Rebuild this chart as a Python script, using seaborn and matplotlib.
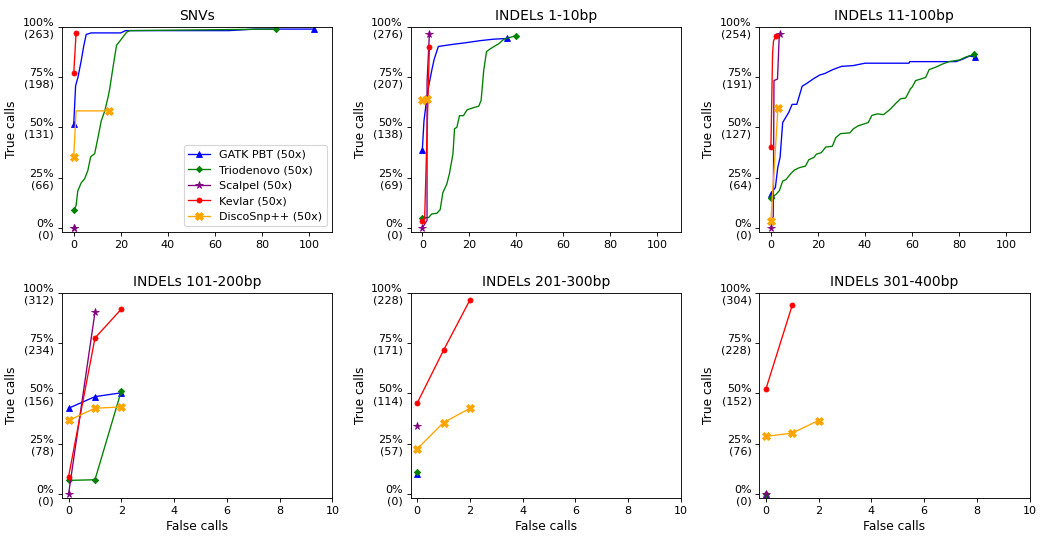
import matplotlib
matplotlib.use("Agg")
import matplotlib.pyplot as plt
import seaborn as sns

tools = ["GATK PBT (50x)", "Triodenovo (50x)", "Scalpel (50x)", "Kevlar (50x)", "DiscoSnp++ (50x)"]
colors = ["blue", "green", "purple", "red", "orange"]
markers = ["^", "D", "*", "o", "X"]
msizes = [5, 4, 7, 4.5, 7]

titles = ["SNVs", "INDELs 1-10bp", "INDELs 11-100bp",
          "INDELs 101-200bp", "INDELs 201-300bp", "INDELs 301-400bp"]
totals = [263, 276, 254, 312, 228, 304]
tick_counts = [[0, 66, 131, 198, 263], [0, 69, 138, 207, 276], [0, 64, 127, 191, 254],
               [0, 78, 156, 234, 312], [0, 57, 114, 171, 228], [0, 76, 152, 228, 304]]
percents = [0, 25, 50, 75, 100]

# false calls (x) and true calls (y) per tool, one pair of dicts per panel
snv_x = {
    "GATK PBT (50x)": [0, 0.8, 1.8, 3.2, 4.2, 5.3, 7.4, 20, 22, 66, 77, 102],
    "Triodenovo (50x)": [0, 1, 1.7, 3.2, 4.6, 6, 7.2, 8.9, 10.3, 11.7, 13.2, 14.6, 15.3, 16.7,
                         18.2, 19.3, 21, 22.5, 23.9, 86],
    "Scalpel (50x)": [0],
    "Kevlar (50x)": [0, 1],
    "DiscoSnp++ (50x)": [0, 1, 15],
}
snv_y = {
    "GATK PBT (50x)": [136, 186, 197, 219, 237, 253, 255, 255, 258, 258, 260, 260],
    "Triodenovo (50x)": [23, 29, 48, 59, 64, 75, 93, 97, 118, 140, 153, 171, 182, 210,
                         239, 243, 250, 256, 258, 260],
    "Scalpel (50x)": [0],
    "Kevlar (50x)": [202, 255],
    "DiscoSnp++ (50x)": [93, 153, 153],
}

ind1_x = {
    "GATK PBT (50x)": [0, 0.7, 1.6, 2.6, 4, 5, 6.8, 13.2, 18.2, 24.6, 30.3, 36],
    "Triodenovo (50x)": [0, 2.6, 4, 6.2, 7.6, 8.7, 10.4, 11.5, 13, 13.7, 14.7, 15.8, 17.5, 19,
                         21.8, 24, 25, 26.1, 27.3, 29, 32.6, 34.7, 40],
    "Scalpel (50x)": [0, 2, 2, 3],
    "Kevlar (50x)": [0, 1, 3],
    "DiscoSnp++ (50x)": [0, 1, 2],
}
ind1_y = {
    "GATK PBT (50x)": [107, 147, 170, 193, 216, 231, 249, 252, 254, 257, 259, 260],
    "Triodenovo (50x)": [14, 14, 19, 20, 25, 48, 60, 74, 101, 136, 138, 154, 154, 162,
                         165, 167, 175, 216, 242, 246, 253, 259, 264],
    "Scalpel (50x)": [0, 10, 200, 266],
    "Kevlar (50x)": [9, 14, 248],
    "DiscoSnp++ (50x)": [176, 177, 177],
}

ind11_x = {
    "GATK PBT (50x)": [0, 1.9, 2.9, 3.9, 5, 6.4, 7.6, 9, 11, 12.1, 13.3, 15, 17.9, 20.7, 22.9,
                       26.4, 30, 35, 40, 58.7, 59, 78.7, 81.5, 84.4, 86.6],
    "Triodenovo (50x)": [0, 2.1, 3.6, 5, 6.4, 8.6, 10, 12.1, 14.7, 16.1, 18.3, 19.3, 21.4, 23.3,
                         26.1, 27.6, 29.6, 33.6, 35, 37.2, 39.3, 41.4, 42.9, 45.3, 47.9, 50.8,
                         53, 55.1, 57.3, 59.4, 60.1, 61.5, 63.7, 65.8, 67.3, 70.1, 73, 75.8,
                         80.1, 83, 86.3],
    "Scalpel (50x)": [0, 1, 1.3, 2.8, 3.5, 4],
    "Kevlar (50x)": [0, 0.7, 1.1, 2],
    "DiscoSnp++ (50x)": [0, 3],
}
ind11_y = {
    "GATK PBT (50x)": [43, 51, 76, 89, 133, 140, 146, 156, 156, 167, 179, 182, 188, 193, 195,
                       200, 204, 205, 208, 208, 210, 210, 213, 217, 216],
    "Triodenovo (50x)": [38, 42, 47, 59, 61, 69, 73, 76, 78, 86, 89, 93, 95, 102,
                         103, 114, 119, 120, 125, 129, 131, 133, 142, 144, 143, 150,
                         157, 163, 164, 176, 178, 186, 188, 190, 200, 203, 207, 210,
                         212, 216, 219],
    "Scalpel (50x)": [0, 15, 186, 188, 240, 245],
    "Kevlar (50x)": [102, 220, 236, 242],
    "DiscoSnp++ (50x)": [9, 152],
}

ind101_x = {
    "GATK PBT (50x)": [0, 1, 2],
    "Triodenovo (50x)": [0, 1, 2],
    "Scalpel (50x)": [0, 1],
    "Kevlar (50x)": [0, 1, 2],
    "DiscoSnp++ (50x)": [0, 1, 2],
}
ind101_y = {
    "GATK PBT (50x)": [133, 151, 157],
    "Triodenovo (50x)": [21, 22, 160],
    "Scalpel (50x)": [0, 282],
    "Kevlar (50x)": [27, 242, 287],
    "DiscoSnp++ (50x)": [114, 133, 135],
}

ind201_x = {
    "GATK PBT (50x)": [0],
    "Triodenovo (50x)": [0],
    "Scalpel (50x)": [0],
    "Kevlar (50x)": [0, 1, 2],
    "DiscoSnp++ (50x)": [0, 1, 2],
}
ind201_y = {
    "GATK PBT (50x)": [23],
    "Triodenovo (50x)": [25],
    "Scalpel (50x)": [77],
    "Kevlar (50x)": [103, 163, 220],
    "DiscoSnp++ (50x)": [51, 81, 97],
}

ind301_x = {
    "GATK PBT (50x)": [0],
    "Triodenovo (50x)": [0],
    "Scalpel (50x)": [0],
    "Kevlar (50x)": [0, 1],
    "DiscoSnp++ (50x)": [0, 1, 2],
}
ind301_y = {
    "GATK PBT (50x)": [0],
    "Triodenovo (50x)": [0],
    "Scalpel (50x)": [0],
    "Kevlar (50x)": [158, 285],
    "DiscoSnp++ (50x)": [87, 92, 111],
}

panels = [(snv_x, snv_y), (ind1_x, ind1_y), (ind11_x, ind11_y),
          (ind101_x, ind101_y), (ind201_x, ind201_y), (ind301_x, ind301_y)]

fig, axes = plt.subplots(2, 3, figsize=(13, 6.7), dpi=80)
plt.subplots_adjust(left=0.0596, right=0.99, bottom=0.071, top=0.95, wspace=0.289, hspace=0.298)

for i, ax in enumerate(axes.flat):
    xs, ys = panels[i]
    top_row = i < 3
    for tool, c, m, ms in zip(tools, colors, markers, msizes):
        # long threshold curves only get markers at both ends
        every = [0, -1] if top_row else None
        sns.lineplot(x=xs[tool], y=ys[tool], ax=ax, color=c, marker=m, markersize=ms,
                     markeredgecolor=c, linewidth=1.2, estimator=None, sort=False,
                     markevery=every, legend=False, label=tool if i == 0 else None)
    total = totals[i]
    ax.set_yticks([total * p / 100 for p in percents])
    ax.set_yticklabels([f"{p}%\n({n})" for p, n in zip(percents, tick_counts[i])], fontsize=10)
    ax.set_ylim(-0.02 * total, total)
    if top_row:
        ax.set_xlim(-5, 110)
        ax.set_xticks([0, 20, 40, 60, 80, 100])
        ax.set_xlabel("")
    else:
        ax.set_xlim(-0.25, 10)
        ax.set_xticks([0, 2, 4, 6, 8, 10])
        ax.set_xlabel("False calls", fontsize=11)
    ax.tick_params(axis="x", labelsize=10)
    ax.set_ylabel("True calls", fontsize=11)
    ax.set_title(titles[i], fontsize=12.5)

axes[0, 0].legend(loc="lower right", fontsize=10)

plt.savefig("out.png", dpi=80)
